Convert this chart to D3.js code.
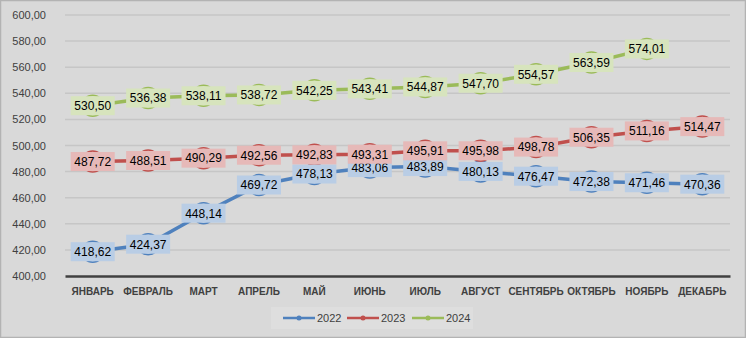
<!DOCTYPE html>
<html><head><meta charset="utf-8">
<script src="https://cdn.jsdelivr.net/npm/d3@7"></script>
<style>body{margin:0;background:#fff}svg{display:block}</style>
</head><body>
<svg id="c" width="746" height="338"></svg>
<script>
const categories = ["ЯНВАРЬ","ФЕВРАЛЬ","МАРТ","АПРЕЛЬ","МАЙ","ИЮНЬ","ИЮЛЬ","АВГУСТ","СЕНТЯБРЬ","ОКТЯБРЬ","НОЯБРЬ","ДЕКАБРЬ"];
const values2022 = [418.62,424.37,448.14,469.72,478.13,483.06,483.89,480.13,476.47,472.38,471.46,470.36];
const values2023 = [487.72,488.51,490.29,492.56,492.83,493.31,495.91,495.98,498.78,506.35,511.16,514.47];
const values2024 = [530.50,536.38,538.11,538.72,542.25,543.41,544.87,547.70,554.57,563.59,574.01];
const seriesNames = ["2022","2023","2024"];
const yTicks = [400,420,440,460,480,500,520,540,560,580,600];

const colors = ["#4f81bd","#c0504d","#9bbb59"];
const lightColors = ["#b9cde5","#e6b9b8","#d7e4bd"];
const series = [values2022, values2023, values2024];

const svg = d3.select("#c");
svg.append("rect").attr("x",0.5).attr("y",0.5).attr("width",745).attr("height",337)
  .attr("fill","#d9d9d9").attr("stroke","#b3b3b3").attr("stroke-width",1.5);

const x = d3.scaleBand().domain(categories).range([65,730]);
const y = d3.scaleLinear().domain([400,600]).range([276,15]);
const fmt = v => d3.format(".2f")(v).replace(".", ",");
const font = "'Liberation Sans', Arial, sans-serif";

// gridlines
svg.append("g").selectAll("line").data(yTicks.filter(t=>t>400)).join("line")
  .attr("x1",65).attr("x2",730).attr("y1",d=>y(d)).attr("y2",d=>y(d))
  .attr("stroke","#c6c6c6").attr("stroke-width",1.5);

// y axis labels
const yAxis = d3.axisLeft(y).tickValues(yTicks).tickFormat(fmt).tickSize(0).tickPadding(0);
const ya = svg.append("g").attr("transform","translate(46,0)").call(yAxis);
ya.select(".domain").remove();
ya.selectAll("text").attr("font-family",font).attr("font-size",11).attr("fill","#404040");

// x axis
const xAxis = d3.axisBottom(x).tickSize(0).tickPadding(12);
const xa = svg.append("g").attr("transform",`translate(0,${y(400)})`).call(xAxis);
xa.select(".domain").attr("stroke","#404040").attr("stroke-width",2.5);
xa.selectAll("text").attr("font-family",font).attr("font-size",10).attr("font-weight","bold").attr("fill","#404040");

const cx = i => x(categories[i]) + x.bandwidth()/2;
const line = d3.line().x((d,i)=>cx(i)).y(d=>y(d));

series.forEach((vals,s)=>{
  const g = svg.append("g");
  g.append("path").attr("d",line(vals)).attr("fill","none").attr("stroke",colors[s]).attr("stroke-width",3.5);
  g.selectAll("circle").data(vals).join("circle")
    .attr("cx",(d,i)=>cx(i)).attr("cy",d=>y(d)).attr("r",10.5)
    .attr("fill",lightColors[s]).attr("stroke",colors[s]).attr("stroke-width",1.5);
});

series.forEach((vals,s)=>{
  const g = svg.append("g");
  const lab = g.selectAll("g").data(vals).join("g")
    .attr("transform",(d,i)=>`translate(${cx(i)},${y(d)})`);
  lab.append("rect").attr("x",-22).attr("y",-9.5).attr("width",44).attr("height",19)
    .attr("fill",lightColors[s]);
  lab.append("text").attr("text-anchor","middle").attr("dy","0.36em")
    .attr("font-family",font).attr("font-size",12).attr("fill","#000")
    .text(d=>fmt(d));
});

// legend
const lg = svg.append("g");
lg.append("rect").attr("x",271).attr("y",307).attr("width",202).attr("height",22).attr("fill","#dedede");
const lx = [283,347,412];
seriesNames.forEach((n,s)=>{
  const g = lg.append("g").attr("transform",`translate(${lx[s]},318)`);
  g.append("line").attr("x1",0).attr("x2",32).attr("stroke",colors[s]).attr("stroke-width",2.5);
  g.append("circle").attr("cx",16).attr("r",2.5).attr("fill",colors[s]);
  g.append("text").attr("x",34).attr("dy","0.35em").attr("font-family",font).attr("font-size",11)
    .attr("fill","#404040").text(n);
});
</script>
</body></html>
